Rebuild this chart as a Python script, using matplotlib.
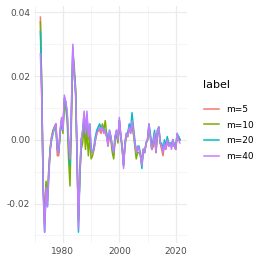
import matplotlib
matplotlib.use("Agg")
import matplotlib.pyplot as plt
import numpy as np

years = np.arange(1972.0, 2022.0, 0.5)

m40 = [0.027, 0.012, -0.016, -0.029, -0.015, -0.021, -0.010, -0.003, 0.001, 0.002,
       0.004, 0.005, -0.003, -0.004, 0.003, 0.007, 0.003, 0.014, 0.012, 0.009,
       0.000, -0.006, 0.010, 0.030, 0.020, 0.015, -0.004, -0.028, -0.010, 0.000,
       0.003, 0.009, 0.002, 0.009, 0.001, 0.005, -0.003, -0.004, -0.003, 0.000,
       0.002, 0.003, 0.004, 0.003, 0.004, 0.002, 0.003, 0.001, -0.002, 0.003,
       0.001, -0.002, -0.004, 0.001, 0.003, 0.000, 0.007, 0.001, -0.002, -0.009,
       -0.001, 0.002, 0.001, 0.004, 0.002, 0.006, 0.003, -0.001, -0.004, -0.002,
       -0.003, -0.005, -0.008, -0.003, -0.004, -0.001, 0.000, 0.005, 0.001, -0.003,
       -0.001, 0.002, -0.004, 0.003, 0.004, -0.001, -0.002, -0.004, -0.001, -0.003,
       0.000, -0.002, -0.001, -0.003, 0.000, -0.002, -0.003, 0.002, 0.000, -0.001]

m5 = [0.0385, 0.016, -0.015, -0.027, -0.014, -0.019, -0.009, -0.003, 0.001, 0.003,
      0.004, 0.005, -0.005, -0.005, 0.003, 0.006, 0.004, 0.013, 0.011, 0.008,
      -0.002, -0.009, 0.008, 0.028, 0.021, 0.014, -0.005, -0.026, -0.010, 0.000,
      0.002, 0.007, 0.001, 0.007, 0.000, 0.004, -0.004, -0.004, -0.003, 0.000,
      0.002, 0.003, 0.003, 0.002, 0.003, 0.003, 0.002, 0.001, -0.002, 0.002,
      0.001, -0.003, -0.005, 0.001, 0.002, 0.000, 0.006, 0.002, -0.002, -0.008,
      -0.001, 0.002, 0.002, 0.004, 0.003, 0.006, 0.002, -0.001, -0.004, -0.003,
      -0.003, -0.004, -0.007, -0.003, -0.004, -0.001, 0.000, 0.004, 0.001, -0.003,
      -0.002, 0.002, -0.004, 0.002, 0.003, -0.001, -0.003, -0.005, -0.001, -0.003,
      0.000, -0.002, -0.001, -0.002, 0.000, -0.002, -0.003, 0.001, 0.001, 0.000]

m10 = [0.037, 0.015, -0.014, -0.026, -0.013, -0.018, -0.009, -0.002, 0.001, 0.003,
       0.004, 0.005, -0.003, -0.004, 0.002, 0.006, 0.002, 0.012, 0.010, 0.006,
       -0.006, -0.0145, 0.005, 0.027, 0.023, 0.016, -0.006, -0.025, -0.011, -0.003,
       -0.001, 0.004, -0.003, 0.003, -0.005, 0.001, -0.006, -0.005, -0.003, 0.000,
       0.002, 0.003, 0.004, 0.003, 0.005, 0.003, 0.006, 0.002, -0.001, 0.002,
       0.000, -0.004, -0.006, 0.000, 0.002, -0.001, 0.006, 0.001, -0.003, -0.008,
       -0.002, 0.001, 0.001, 0.004, 0.002, 0.005, 0.002, -0.002, -0.006, -0.004,
       -0.004, -0.005, -0.008, -0.003, -0.004, -0.001, 0.000, 0.004, 0.001, -0.003,
       -0.002, 0.002, -0.004, 0.002, 0.004, -0.001, -0.002, -0.004, -0.001, -0.002,
       0.000, -0.002, -0.001, -0.002, 0.000, -0.002, -0.003, 0.001, 0.001, 0.000]

m20 = [0.034, 0.014, -0.016, -0.029, -0.016, -0.021, -0.011, -0.003, 0.000, 0.002,
       0.004, 0.004, -0.003, -0.004, 0.002, 0.006, 0.003, 0.013, 0.012, 0.008,
       -0.001, -0.008, 0.009, 0.029, 0.021, 0.015, -0.004, -0.029, -0.011, 0.000,
       0.003, 0.008, 0.002, 0.008, 0.001, 0.005, -0.003, -0.004, -0.002, 0.001,
       0.003, 0.004, 0.005, 0.004, 0.004, 0.003, 0.003, 0.002, -0.001, 0.003,
       0.001, -0.002, -0.004, 0.001, 0.003, 0.000, 0.006, 0.001, -0.002, -0.008,
       -0.001, 0.002, 0.002, 0.005, 0.003, 0.0085, 0.004, 0.000, -0.004, -0.002,
       -0.002, -0.005, -0.009, -0.003, -0.004, -0.001, 0.000, 0.005, 0.002, -0.002,
       0.000, 0.003, -0.003, 0.003, 0.004, -0.001, -0.001, -0.003, 0.000, -0.002,
       0.001, -0.001, -0.001, -0.002, 0.000, -0.002, -0.002, 0.002, 0.001, 0.000]

labels = ["m=5", "m=10", "m=20", "m=40"]
colors = ["#F8766D", "#7CAE00", "#00BFC4", "#C77CFF"]

fig = plt.figure(figsize=(2.63, 2.63), dpi=100)
ax = fig.add_axes([0.130, 0.076, 0.581, 0.900])

for series, lab, col in zip([m5, m10, m20, m40], labels, colors):
    ax.plot(years, series, color=col, linewidth=1.1, label=lab)

ax.set_xlim(1969.8, 2024.0)
ax.set_ylim(-0.0324, 0.0419)
ax.set_xticks([1980, 2000, 2020])
ax.set_xticks([1970, 1990, 2010], minor=True)
ax.set_yticks([-0.02, 0.0, 0.02, 0.04])
ax.set_yticklabels(["-0.02", "0.00", "0.02", "0.04"])
ax.set_yticks([-0.03, -0.01, 0.01, 0.03], minor=True)
ax.grid(which="major", color="#EBEBEB", linewidth=0.9)
ax.grid(which="minor", color="#F2F2F2", linewidth=0.6)
ax.set_axisbelow(True)
ax.tick_params(which="both", length=0, labelsize=6.5, labelcolor="#4D4D4D", pad=3)
for s in ax.spines.values():
    s.set_visible(False)

fig.text(203 / 263, 1 - 85 / 263, "label", fontsize=8, ha="left", va="center")
fig.legend(loc="center left", bbox_to_anchor=(0.745, 1 - 133 / 263), frameon=False,
           fontsize=6.5, handlelength=1.6, labelspacing=0.75, handletextpad=0.8)

fig.savefig("out.png", dpi=100)
